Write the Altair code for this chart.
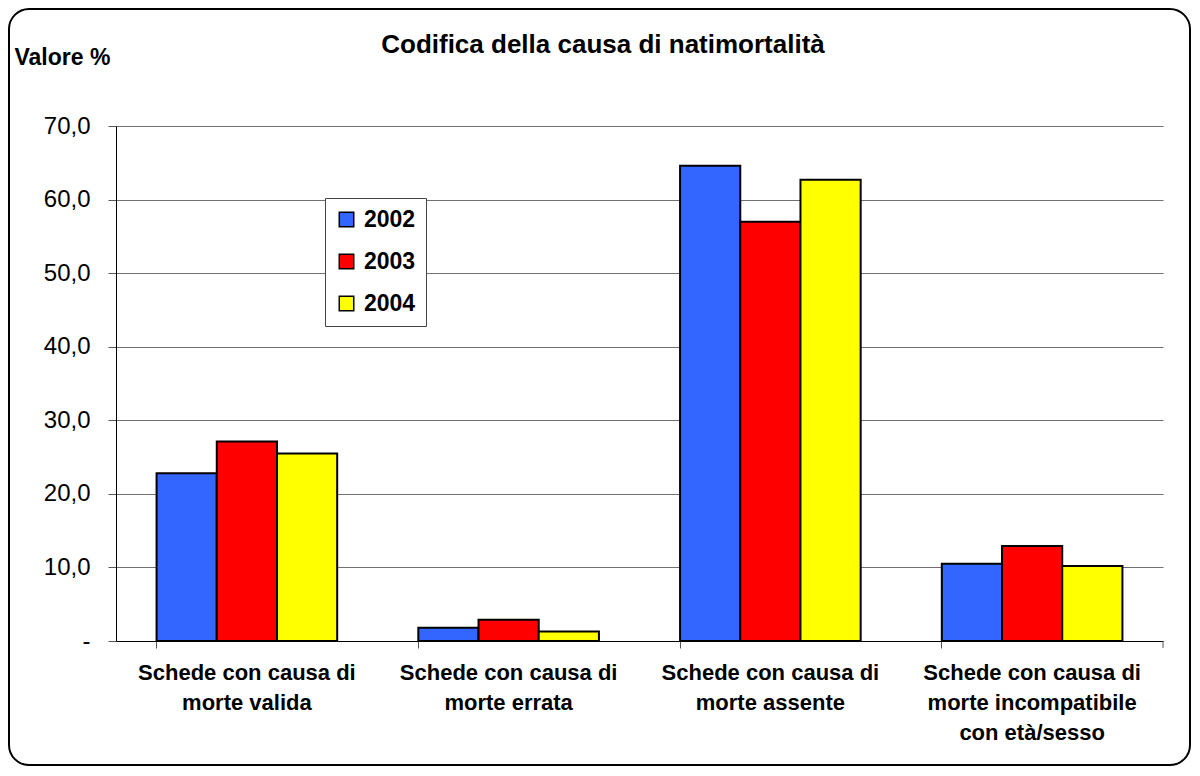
import altair as alt
import pandas as pd

categories = [
    "Schede con causa di\nmorte valida",
    "Schede con causa di\nmorte errata",
    "Schede con causa di\nmorte assente",
    "Schede con causa di\nmorte incompatibile\ncon età/sesso",
]
years = ["2002", "2003", "2004"]
v2002 = [22.8, 1.8, 64.6, 10.5]
v2003 = [27.1, 2.9, 57.0, 12.9]
v2004 = [25.5, 1.3, 62.7, 10.2]
colors = ["#3366FF", "#FF0000", "#FFFF00"]
title_text = "Codifica della causa di natimortalità"

rows = []
for y, vals in zip(years, [v2002, v2003, v2004]):
    for c, v in zip(categories, vals):
        rows.append({"cat": c, "anno": y, "val": v})
df = pd.DataFrame(rows)

W, H = 1047, 515
FONT = "Liberation Sans"

bars = alt.Chart(df).mark_bar(stroke="black", strokeWidth=2).encode(
    x=alt.X("cat:N", sort=categories, title=None,
            scale=alt.Scale(paddingInner=0.31, paddingOuter=0.155),
            axis=alt.Axis(labelAngle=0, bandPosition=0, grid=False,
                          labelExpr="split(datum.label, '\\n')", labelLimit=0,
                          labelFont=FONT, labelFontSize=22, labelFontWeight="bold",
                          labelColor="black", labelLineHeight=30, labelPadding=14,
                          tickSize=7, tickColor="#555", domainColor="black",
                          labelBaseline="top")),
    xOffset=alt.XOffset("anno:N", sort=years),
    y=alt.Y("val:Q", scale=alt.Scale(domain=[0, 70]),
            title="Valore %",
            axis=alt.Axis(values=[0, 10, 20, 30, 40, 50, 60, 70],
                          labelExpr="datum.value == 0 ? '-' : replace(format(datum.value, '.1f'), '.', ',')",
                          labelFont=FONT, labelFontSize=24, labelColor="black",
                          labelPadding=18, tickSize=8, tickColor="#555",
                          gridColor="#707070", gridWidth=1.2, domainColor="black",
                          titleAngle=0, titleAlign="left", titleBaseline="alphabetic",
                          titleX=-102, titleY=-62, titleFont=FONT, titleFontSize=23,
                          titleFontWeight="bold", titleColor="black")),
    color=alt.Color("anno:N", sort=years, scale=alt.Scale(domain=years, range=colors),
                    legend=alt.Legend(title=None, orient="none", legendX=209, legendY=72,
                                      labelFont=FONT, labelFontSize=23, labelFontWeight="bold",
                                      labelColor="black", symbolType="square", symbolSize=210,
                                      symbolStrokeColor="black", symbolStrokeWidth=1.5,
                                      rowPadding=18, padding=10, strokeColor="#444",
                                      fillColor="white", labelOffset=6)),
)

one = alt.Data(values=[{"t": title_text}])
border = alt.Chart(one).mark_rect(filled=False, stroke="black", strokeWidth=2,
                                  cornerRadius=20, clip=False).encode(
    x=alt.value(-107), x2=alt.value(1074), y=alt.value(-117), y2=alt.value(639))

title = alt.Chart(one).mark_text(font=FONT, fontSize=26, fontWeight="bold", color="black",
                                 align="center", baseline="alphabetic").encode(
    x=alt.value(487), y=alt.value(-73), text="t:N")

end_tick = alt.Chart(one).mark_rule(color="#555").encode(
    x=alt.value(W), y=alt.value(H), y2=alt.value(H + 7))

chart = alt.layer(border, bars, end_tick, title).properties(
    width=W, height=H,
    autosize=alt.AutoSizeParams(type="none"),
    padding={"left": 108, "top": 118, "right": 29, "bottom": 127},
    background="white",
).configure_view(strokeWidth=0)

chart.save("out.html", embed_options={"renderer": "svg", "actions": False})
